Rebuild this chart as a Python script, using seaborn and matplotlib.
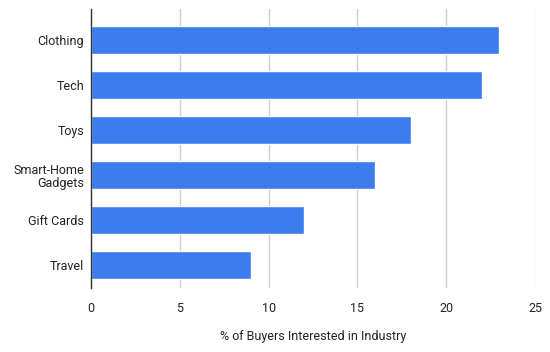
import numpy as np
import pandas as pd
import seaborn as sns
import matplotlib
matplotlib.use("Agg")
import matplotlib.pyplot as plt

categories = ["Clothing", "Tech", "Toys", "Smart-Home\nGadgets", "Gift Cards", "Travel"]
values = [23, 22, 18, 16, 12, 9]
xticks = [0, 5, 10, 15, 20, 25]

sns.set_theme(style="white")
plt.rcParams['font.family'] = ['Roboto', 'DejaVu Sans']

df = pd.DataFrame({"Industry": categories, "Pct": values})

fig = plt.figure(figsize=(5.5, 3.52), dpi=100)
ax = fig.add_axes([91/550, 1 - 288/352, (535 - 91)/550, (288 - 9)/352])

sns.barplot(data=df, y="Industry", x="Pct", orient="h", color="#3b7ded",
            saturation=1, width=0.64, ax=ax)

ax.set_xlim(0, 25)
ax.set_ylim(5.51, -0.69)
ax.set_xticks(xticks)
ax.set_xticklabels([str(t) for t in xticks], fontsize=9, color="#222222")
ax.tick_params(axis="y", labelsize=9, labelcolor="#222222", length=0, pad=5)
ax.tick_params(axis="x", length=0, pad=10)
for lbl in ax.get_yticklabels():
    lbl.set_linespacing(1.0)
ax.grid(axis="x", color="#cccccc", linewidth=1)
ax.set_axisbelow(True)
for s in ["top", "right", "bottom"]:
    ax.spines[s].set_visible(False)
ax.spines["left"].set_color("#333333")
ax.spines["left"].set_linewidth(1)
ax.spines["left"].set_zorder(3)
ax.set_ylabel("")
ax.set_xlabel("% of Buyers Interested in Industry", fontsize=9, color="#222222", labelpad=11)

fig.savefig("out.png", dpi=100)
